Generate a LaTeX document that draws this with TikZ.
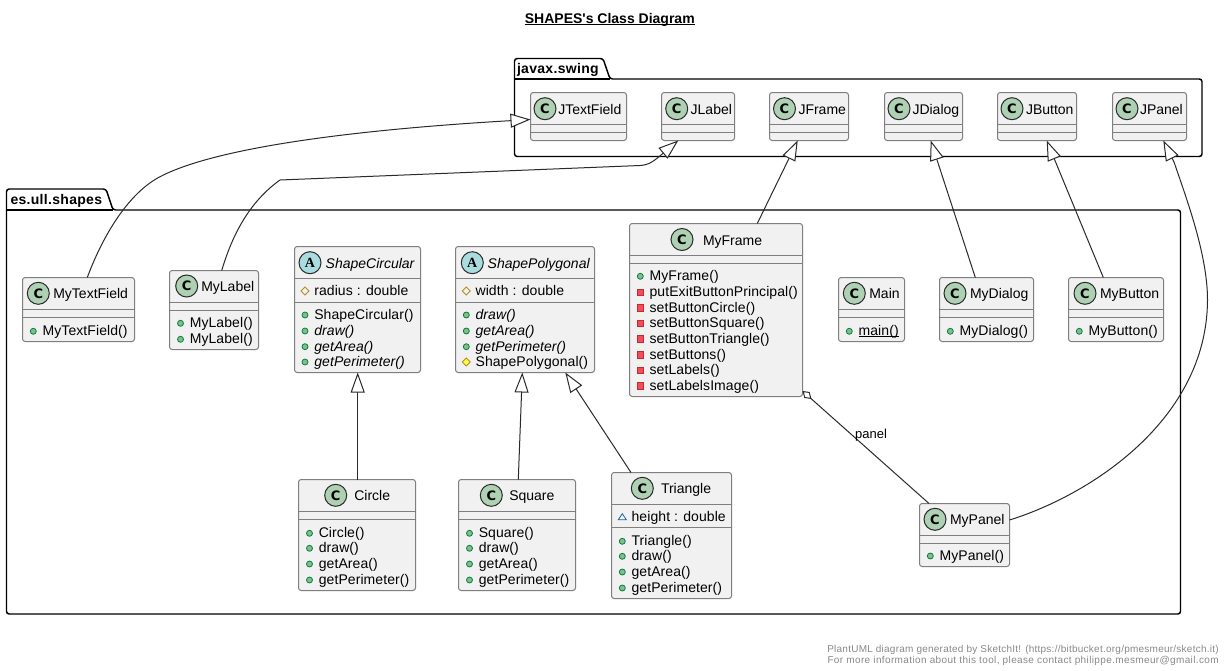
\documentclass[tikz,border=0pt]{standalone}
\usepackage{fontspec}
\setmainfont{Liberation Sans}
\newfontfamily\plainsans{Liberation Sans}
\newfontfamily\spotCfont{DejaVu Sans}
\newfontfamily\spotAfont{Liberation Serif}
\usetikzlibrary{arrows.meta,calc}
\definecolor{classfill}{HTML}{F1F1F1}
\definecolor{classline}{HTML}{7F7F7F}
\definecolor{linkline}{HTML}{2A2A2A}
\definecolor{spotC}{HTML}{ADD1B2}
\definecolor{spotA}{HTML}{A9DCDF}
\definecolor{pubfill}{HTML}{84BE84}
\definecolor{publine}{HTML}{038048}
\definecolor{privfill}{HTML}{F24D5C}
\definecolor{privline}{HTML}{C82930}
\definecolor{protfill}{HTML}{FFFF44}
\definecolor{protline}{HTML}{B38D22}
\definecolor{pkgline}{HTML}{1963A0}
\definecolor{footgray}{HTML}{888888}
\newcounter{txtno}
\newcommand{\ulin}[3]{\setbox0=\hbox{#1}\rlap{\rule[-#2]{\wd0}{#3}}\box0}
\tikzset{
  x=0.75pt,y=-0.75pt,
  classbox/.style={draw=classline,fill=classfill,line width=0.75pt,rounded corners=2pt,inner sep=0pt,outer sep=0pt,anchor=north west},
  sepline/.style={draw=classline,line width=0.75pt},
  txt/.style={anchor=base west,inner sep=0pt,outer sep=0pt,font=\fontsize{10.5pt}{12pt}\selectfont},
  spot/.style={draw=linkline,line width=0.75pt,circle,inner sep=0pt,outer sep=0pt,minimum size=16.5pt},
  spotkindC/.style={spot,fill=spotC,font=\spotCfont\bfseries\fontsize{9.75pt}{10pt}\selectfont},
  spotkindA/.style={spot,fill=spotA,font=\spotAfont\bfseries\fontsize{10.5pt}{10pt}\selectfont},
  pkgbox/.style={draw=black,fill=white,line width=1.1pt,rounded corners=2pt},
  pkgtxt/.style={anchor=base west,inner sep=0pt,outer sep=0pt,font=\bfseries\fontsize{10.5pt}{12pt}\selectfont\addfontfeature{LetterSpace=2.2}},
  link/.style={draw=linkline,line width=0.75pt},
  inherit/.style={link,-{Triangle[open,fill=white,length=15pt,width=10.5pt]}},
  aggreg/.style={link,{Diamond[open,fill=white,length=9pt,width=6pt]}-},
  foot/.style={anchor=base east,inner sep=0pt,text=footgray,font=\fontsize{7.5pt}{9pt}\selectfont},
}
\newcommand{\pkg}[9]{% name l top tabright tabbot r bot textx text
  \draw[pkgbox] (#2,#5) -- (#2,#3) -- ({#4-7},#3) -- (#4,#5) -- (#6,#5) -- (#6,#7) -- (#2,#7) -- cycle;
  \draw[line width=1.1pt] (#2,#5) -- (#4,#5);
  \node[pkgtxt] (#1) at (#8,{#3+15}) {#9};
}
\newcommand{\cls}[7]{% name l t r b sep1 sep2
  \node[classbox,minimum width={(#4-#2)*0.75pt},minimum height={(#5-#3)*0.75pt}] (#1) at (#2,#3) {};
  \draw[sepline] (#2,#6) -- (#4,#6);
  \draw[sepline] (#2,#7) -- (#4,#7);
}
\newcommand{\hdr}[6]{% name kind cx cy tx title
  \node[spotkind#2] (#1-spot) at (#3,#4) {#2};
  \node[txt] (#1-title) at (#5,{#4+5.5}) {#6};
}
\newcommand{\memtxt}[3]{\stepcounter{txtno}\node[txt] (m\arabic{txtno}) at ({#1+9.3},{#2+4.3}) {\addfontfeature{LetterSpace=0.6}#3};}
\newcommand{\pub}[3]{\draw[draw=publine,fill=pubfill,line width=0.6pt] (#1,#2) circle [radius=3];\memtxt{#1}{#2}{#3}}
\newcommand{\priv}[3]{\draw[draw=privline,fill=privfill,line width=0.6pt] ({#1-3.2},{#2-3.2}) rectangle ({#1+3.2},{#2+3.2});\memtxt{#1}{#2}{#3}}
\newcommand{\prot}[3]{\draw[draw=protline,fill=protfill,line width=0.6pt] ({#1-4},#2) -- (#1,{#2-4}) -- ({#1+4},#2) -- (#1,{#2+4}) -- cycle;\memtxt{#1}{#2}{#3}}
\newcommand{\protattr}[3]{\draw[draw=protline,line width=0.6pt] ({#1-4},#2) -- (#1,{#2-4}) -- ({#1+4},#2) -- (#1,{#2+4}) -- cycle;\memtxt{#1}{#2}{#3}}
\newcommand{\pkgattr}[3]{\draw[draw=pkgline,line width=0.6pt] ({#1-4},{#2+3}) -- (#1,{#2-3}) -- ({#1+4},{#2+3}) -- cycle;\memtxt{#1}{#2}{#3}}
\begin{document}
\begin{tikzpicture}
\useasboundingbox (0,0) rectangle (1232,671);
% title
\node[anchor=base,inner sep=0pt,font=\plainsans\bfseries\fontsize{10.5pt}{12pt}\selectfont] (title) at (609.8,23) {\ulin{SHAPES's Class Diagram}{1.6pt}{1pt}};
% packages
\pkg{swing}{514.5}{58.5}{610}{79}{1202}{156.5}{517}{javax.swing}
\pkg{shapes}{6.5}{189}{113}{210}{1180.5}{614}{10.5}{es.ull.shapes}
% javax.swing
\cls{JTextField}{530.5}{92.5}{626.5}{140.5}{124.5}{132.5}\hdr{JTextField}{C}{545}{108.7}{558.3}{JTextField}
\cls{JLabel}{661.5}{92.5}{734.5}{140.5}{124.5}{132.5}\hdr{JLabel}{C}{676.7}{108.7}{690.7}{JLabel}
\cls{JFrame}{769.5}{92.5}{848.5}{140.5}{124.5}{132.5}\hdr{JFrame}{C}{784.5}{108.7}{798.5}{JFrame}
\cls{JDialog}{884.5}{92.5}{962.5}{140.5}{124.5}{132.5}\hdr{JDialog}{C}{899}{108.7}{912.5}{JDialog}
\cls{JButton}{997.5}{92.5}{1076.5}{140.5}{124.5}{132.5}\hdr{JButton}{C}{1012}{108.7}{1026}{JButton}
\cls{JPanel}{1112.5}{92.5}{1186.5}{140.5}{124.5}{132.5}\hdr{JPanel}{C}{1127}{108.7}{1140}{JPanel}
% es.ull.shapes
\cls{MyTextField}{22.5}{277.5}{134.5}{341.5}{309.5}{317.5}\hdr{MyTextField}{C}{38.3}{293.3}{53.3}{MyTextField}
\pub{33.3}{331.3}{MyTextField()}
\cls{MyLabel}{169.5}{270.5}{258.5}{349.5}{302}{310.5}\hdr{MyLabel}{C}{186.7}{286}{201.3}{MyLabel}
\pub{180.5}{323.3}{MyLabel()}
\pub{180.5}{339.3}{MyLabel()}
\cls{ShapeCircular}{294.5}{246.5}{420.5}{372.5}{278.5}{302.5}\hdr{ShapeCircular}{A}{310}{262.7}{325.7}{\itshape ShapeCircular}
\protattr{305}{291}{radius : double}
\pub{305}{315}{ShapeCircular()}
\pub{305}{331}{\itshape draw()}
\pub{305}{346.7}{\itshape getArea()}
\pub{305}{362}{\itshape getPerimeter()}
\cls{ShapePolygonal}{455.5}{246.5}{594.5}{372.5}{278.5}{302.5}\hdr{ShapePolygonal}{A}{472.3}{262.7}{487.7}{\itshape ShapePolygonal}
\protattr{466.3}{291}{width : double}
\pub{466.3}{315}{\itshape draw()}
\pub{466.3}{331}{\itshape getArea()}
\pub{466.3}{346.7}{\itshape getPerimeter()}
\prot{466.3}{362}{ShapePolygonal()}
\cls{MyFrame}{629.5}{223.5}{802.5}{396.5}{255.5}{263.5}\hdr{MyFrame}{C}{682}{239.5}{703}{MyFrame}
\pub{640.3}{276.3}{MyFrame()}
\priv{640.3}{292.3}{putExitButtonPrincipal()}
\priv{640.3}{307.7}{setButtonCircle()}
\priv{640.3}{323.3}{setButtonSquare()}
\priv{640.3}{339}{setButtonTriangle()}
\priv{640.3}{354.7}{setButtons()}
\priv{640.3}{370.3}{setLabels()}
\priv{640.3}{386}{setLabelsImage()}
\cls{Main}{838.5}{277.5}{904.5}{341.5}{309.5}{317.5}\hdr{Main}{C}{854.3}{293.3}{869.3}{Main}
\pub{849.3}{331.3}{\ulin{main()}{1pt}{0.75pt}}
\cls{MyDialog}{939.5}{277.5}{1033.5}{341.5}{309.5}{317.5}\hdr{MyDialog}{C}{955}{293.3}{970}{MyDialog}
\pub{950.3}{331.3}{MyDialog()}
\cls{MyButton}{1068.5}{277.5}{1163.5}{341.5}{309.5}{317.5}\hdr{MyButton}{C}{1085}{293.3}{1100}{MyButton}
\pub{1079.3}{331.3}{MyButton()}
\cls{Circle}{298.5}{479.5}{415.5}{590.5}{511.5}{519.5}\hdr{Circle}{C}{335.7}{495.3}{354.3}{Circle}
\pub{309.5}{533.3}{Circle()}
\pub{309.5}{548.3}{draw()}
\pub{309.5}{564}{getArea()}
\pub{309.5}{580}{getPerimeter()}
\cls{Square}{458.5}{479.5}{575.5}{590.5}{511.5}{519.5}\hdr{Square}{C}{491.3}{495.3}{509.3}{Square}
\pub{469.5}{533.3}{Square()}
\pub{469.5}{548.3}{draw()}
\pub{469.5}{564}{getArea()}
\pub{469.5}{580}{getPerimeter()}
\cls{Triangle}{611.5}{472.5}{731.5}{598.5}{504.5}{527.5}\hdr{Triangle}{C}{642.3}{488.3}{661}{Triangle}
\pkgattr{622.3}{516.7}{height : double}
\pub{622.3}{541.3}{Triangle()}
\pub{622.3}{556.3}{draw()}
\pub{622.3}{572}{getArea()}
\pub{622.3}{588}{getPerimeter()}
\cls{MyPanel}{919.5}{503.5}{1009.5}{566.5}{535.5}{543.5}\hdr{MyPanel}{C}{935}{519.3}{950}{MyPanel}
\pub{930.3}{556}{MyPanel()}
% connectors
\draw[inherit] ($(MyTextField.north west)+(64.8,0)$) .. controls (100,243) and (125,195) .. (160,176.7) .. controls (215,148) and (350,130) .. (JTextField.west |- 0,119.5);
\draw[inherit] ($(MyLabel.north west)+(52.2,0)$) .. controls (230,243) and (245,205) .. (280,180) -- (640,165.5) .. controls (650,165) and (655,160) .. ($(JLabel.south west)+(16.8,0)$);
\draw[inherit] ($(MyFrame.north west)+(127.8,0)$) -- ($(JFrame.south west)+(28.2,0)$);
\draw[inherit] ($(MyDialog.north west)+(35.8,0)$) -- ($(JDialog.south west)+(46.2,0)$);
\draw[inherit] ($(MyButton.north west)+(34.8,0)$) -- ($(JButton.south west)+(49.2,0)$);
\draw[inherit] ($(MyPanel.north east)+(0,16.5)$) .. controls (1090,495) and (1207,420) .. (1207.5,300) .. controls (1207.5,255) and (1187,200) .. (1174,162) -- ($(JPanel.south west)+(50.8,0)$);
\draw[inherit] ($(Circle.north west)+(59.2,0)$) -- ($(ShapeCircular.south west)+(63.2,0)$);
\draw[inherit] ($(Square.north west)+(59.8,0)$) -- ($(ShapePolygonal.south west)+(66.8,0)$);
\draw[inherit] ($(Triangle.north west)+(19.5,0)$) -- ($(ShapePolygonal.south west)+(109.8,0)$);
\draw[aggreg] ($(MyFrame.north east)+(0,167.5)$) -- ($(MyPanel.north west)+(9.5,0)$);
\node[inner sep=0pt,font=\fontsize{9.75pt}{12pt}\selectfont] (panellabel) at (871,435) {panel};
% footer
\node[foot] (foot1) at (1219,652) {\addfontfeature{LetterSpace=2.45}PlantUML diagram generated by SketchIt! (https://bitbucket.org/pmesmeur/sketch.it)};
\node[foot] (foot2) at (1219,663) {\addfontfeature{LetterSpace=3.7}For more information about this tool, please contact philippe.mesmeur@gmail.com};
\end{tikzpicture}
\end{document}
